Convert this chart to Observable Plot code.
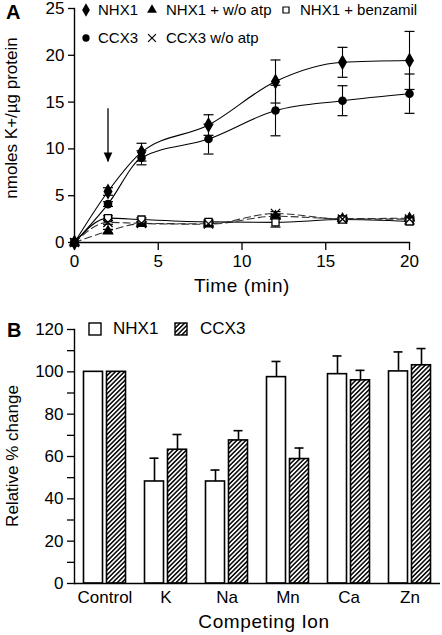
<!DOCTYPE html>
<html><head><meta charset="utf-8">
<script src="https://cdn.jsdelivr.net/npm/d3@7"></script>
<script src="https://cdn.jsdelivr.net/npm/@observablehq/plot@0.6"></script>
<style>
body{margin:0;background:#fff;font-family:"Liberation Sans",Arial,Helvetica,sans-serif;}
#wrap{position:relative;width:442px;height:635px;overflow:hidden;background:#fff;}
.panel{position:absolute;left:0;}
svg.panel text{font-size:17px !important;font-family:"Liberation Sans",Arial,Helvetica,sans-serif !important;}
.plabel{position:absolute;font-weight:bold;font-size:20px;line-height:20px;}
.lt{position:absolute;font-size:15px;line-height:16px;white-space:nowrap;transform:translateY(-50%);}
.lb{position:absolute;font-size:17px;line-height:18px;white-space:nowrap;transform:translateY(-50%);}
.ls{position:absolute;overflow:visible;}
.tx{position:absolute;font-size:19px;line-height:20px;white-space:nowrap;letter-spacing:0.6px;transform:translate(-50%,-50%);}
.ty{position:absolute;font-size:17px;line-height:20px;white-space:nowrap;transform:translate(-50%,-50%) rotate(-90deg);}
</style></head><body>
<div id="wrap"></div>
<script>
// ---------- Panel A data ----------
const timesA = [0, 2, 4, 8, 12, 16, 20];
const nhx1 = [0, 5.45, 9.65, 12.55, 17.2, 19.25, 19.45];
const nhx1Err = [0, 0.4, 0.95, 1.1, 2.3, 1.6, 3.1];
const ccx3 = [0, 4.1, 9.05, 11.05, 14.1, 15.15, 15.9];
const ccx3Err = [0, 0.25, 0.75, 1.6, 2.7, 1.6, 2.1];
const nhx1NoAtp = [0, 1.2, 2.0, 1.95, 2.8, 2.55, 2.6];
const nhx1NoAtpErr = [0, 0.2, 0.15, 0.15, 0.2, 0.15, 0.15];
const nhx1Benz = [0, 2.6, 2.45, 2.2, 2.15, 2.45, 2.25];
const nhx1BenzErr = [0, 0.25, 0.2, 0.15, 0.5, 0.25, 0.3];
const ccx3NoAtp = [0, 2.15, 2.05, 2.0, 3.1, 2.5, 2.5];
const ccx3NoAtpErr = [0, 0.2, 0.15, 0.15, 0.2, 0.15, 0.15];
const seriesNamesA = ["NHX1", "NHX1 + w/o atp", "NHX1 + benzamil", "CCX3", "CCX3 w/o atp"];
const xTicksA = [0, 5, 10, 15, 20];
const yTicksA = [0, 5, 10, 15, 20, 25];
const arrowA = [{t: 2, top: 14.3, tip: 8.6}];
const xTitleA = "Time (min)";
const yTitleA = "nmoles K+/\u00b5g protein";

// ---------- Panel B data ----------
const ions = ["Control", "K", "Na", "Mn", "Ca", "Zn"];
const nhx1Rel = [100, 48.2, 48.2, 97.5, 98.9, 100.2];
const nhx1RelErr = [0, 11, 5.4, 7.4, 8.6, 9.2];
const ccx3Rel = [100, 63.2, 67.6, 58.8, 96, 103.1];
const ccx3RelErr = [0, 7.2, 4.6, 5.2, 4.7, 7.9];
const seriesNamesB = ["NHX1", "CCX3"];
const yTicksB = [0, 10, 20, 30, 40, 50, 60, 70, 80, 90, 100, 110, 120];
const xTitleB = "Competing Ion";
const yTitleB = "Relative % change";

const wrap = document.getElementById("wrap");
const FONT = '"Liberation Sans", Arial, Helvetica, sans-serif';

// ---------- Panel A ----------
const valsA = [nhx1, nhx1NoAtp, nhx1Benz, ccx3, ccx3NoAtp];
const errsA = [nhx1Err, nhx1NoAtpErr, nhx1BenzErr, ccx3Err, ccx3NoAtpErr];
const styleA = {
  "NHX1": {symbol: "diamond", fill: "black", stroke: "none", r: 4.8, dash: null},
  "NHX1 + w/o atp": {symbol: "triangle", fill: "black", stroke: "none", r: 4.3, dash: "7,4"},
  "NHX1 + benzamil": {symbol: "square", fill: "white", stroke: "black", r: 4.0, dash: null},
  "CCX3": {symbol: "circle", fill: "black", stroke: "none", r: 4.3, dash: null},
  "CCX3 w/o atp": {symbol: "times", fill: "none", stroke: "black", r: 4.3, dash: "7,4"}
};
const rowsA = [];
seriesNamesA.forEach((s, k) => timesA.forEach((t, i) => rowsA.push({s, t, v: valsA[k][i], e: errsA[k][i]})));

const capSym = {draw(ctx) { ctx.moveTo(-5, 0); ctx.lineTo(5, 0); }};
const headSym = {draw(ctx) { ctx.moveTo(0, 0); ctx.lineTo(-4.3, -9.5); ctx.lineTo(4.3, -9.5); ctx.closePath(); }};

const marksA = [
  Plot.frame({anchor: "left", strokeWidth: 1.4}),
  Plot.frame({anchor: "bottom", strokeWidth: 1.4}),
  Plot.axisY({ticks: yTicksA, tickSize: 6, tickPadding: 4, fontSize: 17, label: null, strokeWidth: 1.3}),
  Plot.axisX({ticks: xTicksA, tickSize: 8, tickPadding: 4, fontSize: 17, label: null, strokeWidth: 1.3})
];
seriesNamesA.forEach(s => {
  const st = styleA[s];
  const d = rowsA.filter(r => r.s === s);
  marksA.push(Plot.line(d, {x: "t", y: "v", curve: "monotone-x", stroke: st.dash ? "#333" : "black", strokeWidth: 1.1, strokeDasharray: st.dash}));
});
seriesNamesA.forEach(s => {
  const d = rowsA.filter(r => r.s === s && r.e > 0);
  marksA.push(Plot.ruleX(d, {x: "t", y1: r => r.v - r.e, y2: r => r.v + r.e, stroke: "black", strokeWidth: 1.1}));
  marksA.push(Plot.dot(d, {x: "t", y: r => r.v + r.e, symbol: capSym, stroke: "black", fill: "none", strokeWidth: 1.2}));
  marksA.push(Plot.dot(d, {x: "t", y: r => r.v - r.e, symbol: capSym, stroke: "black", fill: "none", strokeWidth: 1.2}));
});
seriesNamesA.forEach(s => {
  const st = styleA[s];
  const d = rowsA.filter(r => r.s === s);
  marksA.push(Plot.dot(d, {x: "t", y: "v", symbol: st.symbol, r: st.r, fill: st.fill, stroke: st.stroke, strokeWidth: 1.3}));
});
marksA.push(Plot.ruleX(arrowA, {x: "t", y1: "top", y2: "tip", stroke: "black", strokeWidth: 1.3}));
marksA.push(Plot.dot(arrowA, {x: "t", y: "tip", symbol: headSym, fill: "black", stroke: "none"}));

const plotA = Plot.plot({
  width: 442, height: 300,
  marginLeft: 74, marginRight: 33, marginTop: 8, marginBottom: 58,
  style: {fontFamily: FONT, fontSize: "17px", color: "black", background: "white"},
  x: {domain: [0, 20]},
  y: {domain: [0, 25]},
  marks: marksA
});
plotA.classList.add("panel");
plotA.style.top = "0px";
wrap.appendChild(plotA);

// ---------- Panel B ----------
const rowsB = [];
ions.forEach((c, i) => {
  rowsB.push({c, s: seriesNamesB[0], v: nhx1Rel[i], e: nhx1RelErr[i]});
  rowsB.push({c, s: seriesNamesB[1], v: ccx3Rel[i], e: ccx3RelErr[i]});
});
const bN = rowsB.filter(r => r.s === seriesNamesB[0]);
const bC = rowsB.filter(r => r.s === seriesNamesB[1]);

const plotB = Plot.plot({
  width: 442, height: 330,
  marginLeft: 74, marginRight: 2, marginTop: 24, marginBottom: 52,
  style: {fontFamily: FONT, fontSize: "17px", color: "black", background: "white"},
  x: {domain: ions, padding: 0},
  y: {domain: [0, 120]},
  marks: [
    Plot.ruleX(bN.filter(r => r.e > 0), {x: "c", y1: "v", y2: r => r.v + r.e, dx: -11.5, stroke: "black", strokeWidth: 1.6}),
    Plot.ruleX(bC.filter(r => r.e > 0), {x: "c", y1: "v", y2: r => r.v + r.e, dx: 11.5, stroke: "black", strokeWidth: 1.6}),
    Plot.tickY(bN.filter(r => r.e > 0), {x: "c", y: r => r.v + r.e, insetLeft: 14.5, insetRight: 37.5, stroke: "black", strokeWidth: 1.6}),
    Plot.tickY(bC.filter(r => r.e > 0), {x: "c", y: r => r.v + r.e, insetLeft: 37.5, insetRight: 14.5, stroke: "black", strokeWidth: 1.6}),
    Plot.barY(bN, {x: "c", y: "v", insetLeft: 9.5, insetRight: 32.5, fill: "white", stroke: "black", strokeWidth: 1.6}),
    Plot.barY(bC, {x: "c", y: "v", insetLeft: 32.5, insetRight: 9.5, fill: "url(#hatchB)", stroke: "black", strokeWidth: 1.6}),
    Plot.frame({anchor: "left", strokeWidth: 1.4}),
    Plot.ruleY([0], {strokeWidth: 1.6}),
    Plot.axisY({ticks: yTicksB, tickFormat: d => d % 20 === 0 ? d : "", tickSize: 7, tickPadding: 4, fontSize: 17, label: null, strokeWidth: 1.3}),
    Plot.axisX({tickSize: 0, tickPadding: 7, fontSize: 17, label: null})
  ]
});
plotB.classList.add("panel");
plotB.style.top = "305px";
const defs = d3.select(plotB).insert("defs", ":first-child");
const pat = defs.append("pattern").attr("id", "hatchB").attr("patternUnits", "userSpaceOnUse")
  .attr("width", 3.2).attr("height", 3.2).attr("patternTransform", "rotate(45)");
pat.append("rect").attr("width", 3.2).attr("height", 3.2).attr("fill", "white");
pat.append("line").attr("x1", 0.8).attr("y1", 0).attr("x2", 0.8).attr("y2", 3.2).attr("stroke", "black").attr("stroke-width", 1.5);
wrap.appendChild(plotB);

// ---------- Text ----------
function addDiv(cls, text, x, y) {
  const d = document.createElement("div");
  d.className = cls; d.textContent = text;
  d.style.left = x + "px"; d.style.top = y + "px";
  wrap.appendChild(d);
  return d;
}
addDiv("plabel", "A", 6, 2);
addDiv("plabel", "B", 7, 320);
addDiv("tx", xTitleA, 242, 286);
addDiv("ty", yTitleA, 12, 118);
addDiv("tx", xTitleB, 264, 622);
addDiv("ty", yTitleB, 13, 456);

// ---------- Legends ----------
function symSvg(symbolName, fill, stroke, r, cx, cy) {
  const s = d3.create("svg").attr("class", "ls").attr("width", 14).attr("height", 14)
    .style("left", (cx - 7) + "px").style("top", (cy - 7) + "px");
  const type = {diamond: d3.symbolDiamond, triangle: d3.symbolTriangle, square: d3.symbolSquare, circle: d3.symbolCircle, times: d3.symbolTimes}[symbolName];
  s.append("path").attr("transform", "translate(7,7)").attr("d", d3.symbol(type, r * r * Math.PI)())
    .attr("fill", fill).attr("stroke", stroke).attr("stroke-width", 1.2);
  wrap.appendChild(s.node());
}
const legA = [
  {s: "NHX1", sx: 86, tx: 98, y: 10},
  {s: "NHX1 + w/o atp", sx: 152, tx: 166, y: 10},
  {s: "NHX1 + benzamil", sx: 286, tx: 300, y: 10},
  {s: "CCX3", sx: 86, tx: 98, y: 38},
  {s: "CCX3 w/o atp", sx: 152, tx: 166, y: 38}
];
legA.forEach(l => {
  const st = styleA[l.s];
  symSvg(st.symbol, st.fill, st.stroke === "none" ? "none" : "black", st.r * 0.85, l.sx, l.y);
  addDiv("lt", l.s, l.tx, l.y);
});
const legB = d3.create("svg").attr("class", "ls").attr("width", 120).attr("height", 16)
  .style("left", "86px").style("top", "321px");
legB.append("defs").html('<pattern id="hatchL" patternUnits="userSpaceOnUse" width="3.2" height="3.2" patternTransform="rotate(45)"><rect width="3.2" height="3.2" fill="white"/><line x1="0.8" y1="0" x2="0.8" y2="3.2" stroke="black" stroke-width="1.5"/></pattern>');
legB.append("rect").attr("x", 3).attr("y", 2).attr("width", 12).attr("height", 12).attr("fill", "white").attr("stroke", "black").attr("stroke-width", 1.4);
legB.append("rect").attr("x", 89).attr("y", 2).attr("width", 12).attr("height", 12).attr("fill", "url(#hatchL)").attr("stroke", "black").attr("stroke-width", 1.4);
wrap.appendChild(legB.node());
addDiv("lb", seriesNamesB[0], 113, 329);
addDiv("lb", seriesNamesB[1], 200, 329);
</script>
</body></html>
